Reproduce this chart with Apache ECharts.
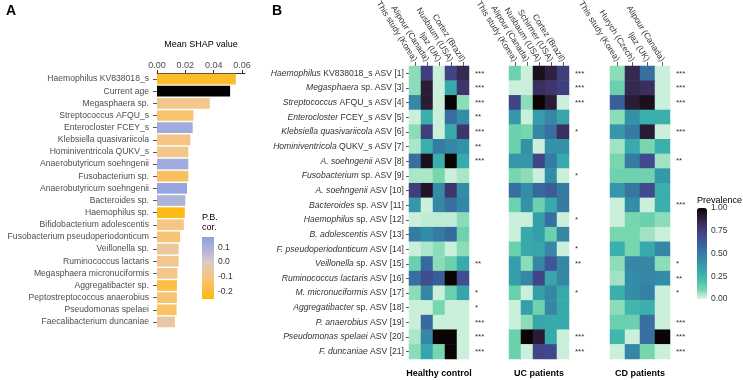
<!DOCTYPE html>
<html><head><meta charset="utf-8">
<script src="https://cdn.jsdelivr.net/npm/echarts@6/dist/echarts.min.js"></script>
<style>html,body{margin:0;padding:0;background:#fff}#c{width:743px;height:380px}</style>
</head><body><div id="c"></div>
<script>
const FONT = '"Liberation Sans", Arial, Helvetica, sans-serif';

// ---------- Panel A data ----------
const featureNames = ['Haemophilus KV838018_s','Current age','Megasphaera sp.','Streptococcus AFQU_s','Enterocloster FCEY_s','Klebsiella quasivariicola','Hominiventricola QUKV_s','Anaerobutyricum soehngenii','Fusobacterium sp.','Anaerobutyricum soehngenii','Bacteroides sp.','Haemophilus sp.','Bifidobacterium adolescentis','Fusobacterium pseudoperiodonticum','Veillonella sp.','Ruminococcus lactaris','Megasphaera micronuciformis','Aggregatibacter sp.','Peptostreptococcus anaerobius','Pseudomonas spelaei','Faecalibacterium duncaniae'];
const shapValues = [0.0556,0.0516,0.0372,0.0257,0.0252,0.0235,0.0221,0.0221,0.0221,0.0212,0.0200,0.0196,0.0189,0.0163,0.0153,0.0153,0.0144,0.0141,0.0140,0.0138,0.0127];
const pbCor = [-0.21,null,-0.09,-0.13,0.12,-0.10,-0.09,0.12,-0.15,0.14,0.09,-0.23,-0.10,-0.12,-0.06,-0.08,-0.09,-0.18,-0.12,-0.14,-0.05];
const shapTicks = [0, 0.02, 0.04, 0.06];
const corTicks = [0.1, 0.0, -0.1, -0.2];
const corTickLabels = ['0.1','0.0','-0.1','-0.2'];

// ---------- Panel B data ----------
const rowItalic = ['Haemophilus','Megasphaera','Streptococcus','Enterocloster','Klebsiella quasivariicola','Hominiventricola','A. soehngenii','Fusobacterium','A. soehngenii','Bacteroides','Haemophilus','B. adolescentis','F. pseudoperiodonticum','Veillonella','Ruminococcus lactaris','M. micronuciformis','Aggregatibacter','P. anaerobius','Pseudomonas spelaei','F. duncaniae'];
const rowPlain = [' KV838018_s ASV [1]',' sp. ASV [3]',' AFQU_s ASV [4]',' FCEY_s ASV [5]',' ASV [6]',' QUKV_s ASV [7]',' ASV [8]',' sp. ASV [9]',' ASV [10]',' sp. ASV [11]',' sp. ASV [12]',' ASV [13]',' ASV [14]',' sp. ASV [15]',' ASV [16]',' ASV [17]',' sp. ASV [18]',' ASV [19]',' ASV [20]',' ASV [21]'];

const studiesHC = ['This study (Korea)','Alipour (Canada)','Ijaz (UK)','Nusbaum (USA)','Cortez (Brazil)'];
const studiesUC = ['This study (Korea)','Alipour (Canada)','Nusbaum (USA)','Schirmer (USA)','Cortez (Brazil)'];
const studiesCD = ['This study (Korea)','Hurych (Czech)','Ijaz (UK)','Alipour (Canada)'];
const facetNames = ['Healthy control','UC patients','CD patients'];

const prevHC = [
 [0.08,0.75,0.02,0.72,0.85],
 [0.08,0.90,0.02,0.30,0.80],
 [0.45,0.90,0.02,1.00,0.08],
 [0.02,0.28,0.02,0.55,0.42],
 [0.08,0.75,0.02,0.30,0.80],
 [0.05,0.28,0.50,0.45,0.40],
 [0.55,0.95,0.28,1.00,0.30],
 [0.05,0.05,0.10,0.02,0.05],
 [0.75,0.93,0.42,0.80,0.42],
 [0.38,0.02,0.45,0.55,0.45],
 [0.02,0.03,0.03,0.03,0.08],
 [0.50,0.42,0.50,0.58,0.12],
 [0.02,0.05,0.08,0.02,0.08],
 [0.13,0.58,0.08,0.13,0.30],
 [0.55,0.68,0.62,1.00,0.68],
 [0.08,0.45,0.02,0.13,0.32],
 [0.02,0.02,0.10,0.02,0.02],
 [0.02,0.58,0.02,0.02,0.02],
 [0.05,0.45,1.00,1.00,0.02],
 [0.08,0.32,0.10,1.00,0.02]
];
const prevUC = [
 [0.12,0.02,0.95,0.88,0.75],
 [0.02,0.02,0.82,0.80,0.75],
 [0.72,0.08,1.00,0.90,0.02],
 [0.38,0.02,0.35,0.45,0.32],
 [0.13,0.10,0.45,0.55,0.82],
 [0.13,0.40,0.02,0.40,0.40],
 [0.38,0.38,0.72,0.50,0.30],
 [0.10,0.08,0.02,0.42,0.02],
 [0.55,0.42,0.58,0.62,0.50],
 [0.12,0.40,0.13,0.30,0.50],
 [0.02,0.02,0.35,0.55,0.02],
 [0.02,0.30,0.35,0.13,0.45],
 [0.13,0.30,0.32,0.45,0.02],
 [0.35,0.08,0.45,0.65,0.45],
 [0.35,0.45,0.72,0.32,0.45],
 [0.13,0.02,0.35,0.45,0.30],
 [0.02,0.35,0.12,0.45,0.30],
 [0.02,0.08,0.32,0.30,0.30],
 [0.13,1.00,0.90,0.30,0.02],
 [0.13,0.02,0.72,0.70,0.02]
];
const prevCD = [
 [0.08,0.85,0.55,0.02],
 [0.13,0.85,0.82,0.02],
 [0.62,0.90,0.95,0.02],
 [0.08,0.40,0.28,0.28],
 [0.38,0.50,0.90,0.02],
 [0.06,0.30,0.10,0.28],
 [0.10,0.50,0.70,0.06],
 [0.12,0.12,0.12,0.38],
 [0.38,0.52,0.70,0.28],
 [0.02,0.42,0.02,0.28],
 [0.02,0.10,0.13,0.08],
 [0.10,0.10,0.06,0.02],
 [0.28,0.10,0.30,0.45],
 [0.08,0.45,0.45,0.08],
 [0.06,0.42,0.45,0.42],
 [0.28,0.42,0.48,0.02],
 [0.08,0.25,0.28,0.02],
 [0.13,0.13,0.55,0.02],
 [0.25,0.02,0.55,1.00],
 [0.02,0.45,0.10,0.02]
];
const sigHC = ['***','***','***','**','***','**','***','','','','','','','**','','*','*','***','***','***'];
const sigUC = ['***','***','***','','*','','','*','','','*','','*','**','','*','','','***','***'];
const sigCD = ['***','***','***','','***','','**','','','***','','','','*','**','*','','***','***','***'];
const prevTicks = [0, 0.25, 0.5, 0.75, 1];
const prevTickLabels = ['0.00','0.25','0.50','0.75','1.00'];

// ---------- colour helpers ----------
const makoR = ['#DEF5E5','#78D6AE','#49C1AD','#38AAAC','#3492A8','#357BA2','#38639D','#40498E','#3E356B','#2B1C35','#0B0405'];
const corStops = [[-0.25,'#FFB800'],[-0.2,'#FCBD35'],[-0.1,'#F6C585'],[0,'#DACBBF'],[0.1,'#A8B1DA'],[0.17,'#8C9EE4']];
const corMin = -0.25, corMax = 0.17;
function hex2rgb(h){return [parseInt(h.slice(1,3),16),parseInt(h.slice(3,5),16),parseInt(h.slice(5,7),16)];}
function corColor(v){
  if (v === null) return '#000000';
  if (v <= corStops[0][0]) return corStops[0][1];
  for (let i=1;i<corStops.length;i++){
    if (v <= corStops[i][0]){
      const a=corStops[i-1], b=corStops[i];
      const t=(v-a[0])/(b[0]-a[0]);
      const ca=hex2rgb(a[1]), cb=hex2rgb(b[1]);
      return 'rgb('+ca.map((x,k)=>Math.round(x+(cb[k]-x)*t)).join(',')+')';
    }
  }
  return corStops[corStops.length-1][1];
}

// ---------- layout ----------
const A = {left:157, top:73, width:88, height:255};
const HM = {top:66, height:293, width:60};
const hmLeft = [409, 509, 610];
const corBar = {x:202, y:237, w:12, h:62};
const prevBar = {x:697, y:208, w:10, h:91};

function cells(mat){
  const out=[];
  mat.forEach((row,r)=>row.forEach((v,c)=>out.push([c,r,v])));
  return out;
}

const txt = '#333333';
const grids = [
  {left:A.left, top:A.top, width:A.width, height:A.height, outerBoundsMode:'none'},
  ...hmLeft.map(l=>({left:l, top:HM.top, width:HM.width, height:HM.height, outerBoundsMode:'none'}))
];

const studySets = [studiesHC, studiesUC, studiesCD];
const sigSets = [sigHC, sigUC, sigCD];
const prevSets = [prevHC, prevUC, prevCD];

const xAxes = [{
  type:'value', gridIndex:0, position:'top', min:0, max:0.0621, interval:0.02,
  name:'Mean SHAP value', nameLocation:'middle', nameGap:24,
  nameTextStyle:{fontFamily:FONT, fontSize:9, color:'#000'},
  axisLine:{show:true, lineStyle:{color:'#000', width:0.8}},
  axisTick:{show:true, length:3, lineStyle:{color:'#000', width:0.8}},
  axisLabel:{fontFamily:FONT, fontSize:9, color:'#4D4D4D', margin:3, showMaxLabel:false,
    formatter:v=> shapTicks.some(t=>Math.abs(t-v)<1e-9) ? v.toFixed(2) : ''},
  splitLine:{show:false}
}];
studySets.forEach((s,i)=>{
  xAxes.push({
    type:'category', gridIndex:i+1, position:'top', data:s,
    axisLine:{show:false},
    axisTick:{show:true, length:4, alignWithLabel:true, lineStyle:{color:'#333', width:0.8}},
    axisLabel:{interval:0, rotate:58, fontFamily:FONT, fontSize:8.5, color:txt, margin:5, padding:[10,0,0,0]},
    splitLine:{show:false}
  });
});
facetNames.forEach((n,i)=>{
  xAxes.push({
    type:'category', gridIndex:i+1, position:'bottom', data:studySets[i],
    name:n, nameLocation:'middle', nameGap:10,
    nameTextStyle:{fontFamily:FONT, fontSize:9, fontWeight:'bold', color:'#000'},
    axisLine:{show:false}, axisTick:{show:false}, axisLabel:{show:false}, splitLine:{show:false}
  });
});

const yAxes = [{
  type:'category', gridIndex:0, data:featureNames, inverse:true, offset:5,
  axisLine:{show:false},
  axisTick:{show:true, length:4, alignWithLabel:true, lineStyle:{color:'#333', width:0.8}},
  axisLabel:{interval:0, fontFamily:FONT, fontSize:8.6, color:'#4D4D4D', margin:3}
}];
const rowLabels = rowItalic.map((g,i)=>g+rowPlain[i]);
studySets.forEach((s,i)=>{
  yAxes.push({
    type:'category', gridIndex:i+1, data:rowLabels, inverse:true, position:'left',
    axisLine:{show:false},
    axisTick:{show:i===0, length:3, alignWithLabel:true, lineStyle:{color:'#333', width:0.8}},
    axisLabel:{show:i===0, interval:0, fontFamily:FONT, fontSize:8.6, color:txt, margin:5,
      formatter:(v,idx)=>'{i|'+rowItalic[idx]+'}'+rowPlain[idx],
      rich:{i:{fontStyle:'italic', fontFamily:FONT, fontSize:8.6, color:txt}}}
  });
  yAxes.push({
    type:'category', gridIndex:i+1, data:sigSets[i].map((x,k)=>k), inverse:true, position:'right',
    axisLine:{show:false}, axisTick:{show:false},
    axisLabel:{interval:0, fontFamily:FONT, fontSize:8, color:txt, margin:6, align:'left',
      formatter:(v,idx)=>sigSets[i][idx]}
  });
});

const series = [{
  type:'bar', xAxisIndex:0, yAxisIndex:0, barCategoryGap:'12%',
  data: shapValues.map((v,i)=>({value:v, itemStyle:{color:corColor(pbCor[i])}}))
}];
prevSets.forEach((m,i)=>{
  series.push({type:'heatmap', xAxisIndex:i+1, yAxisIndex:1+2*i, data:cells(m)});
});

// graphic: panel letters, legends
const graphic = [
  {type:'text', x:6, y:4, style:{text:'A', font:'bold 14px '+FONT, fill:'#000'}},
  {type:'text', x:272, y:4, style:{text:'B', font:'bold 14px '+FONT, fill:'#000'}},
  {type:'text', x:corBar.x, y:corBar.y-24, style:{text:'P.B.\ncor.', font:'9px '+FONT, fill:'#000', lineHeight:10}},
  {type:'rect', shape:{x:corBar.x, y:corBar.y, width:corBar.w, height:corBar.h},
    style:{fill:new echarts.graphic.LinearGradient(0,0,0,1,
      corStops.slice().reverse().map(s=>({offset:(corMax-s[0])/(corMax-corMin), color:s[1]})))}},
  {type:'text', x:prevBar.x, y:prevBar.y-12, style:{text:'Prevalence', font:'9px '+FONT, fill:'#000'}}
];
corTicks.forEach((t,i)=>{
  graphic.push({type:'text', x:corBar.x+corBar.w+4, y:corBar.y+(corMax-t)/(corMax-corMin)*corBar.h,
    style:{text:corTickLabels[i], font:'8.5px '+FONT, fill:'#333', verticalAlign:'middle'}});
});
prevTicks.forEach((t,i)=>{
  graphic.push({type:'text', x:prevBar.x+prevBar.w+4, y:prevBar.y+(1-t)*prevBar.h,
    style:{text:prevTickLabels[i], font:'8.5px '+FONT, fill:'#333', verticalAlign:'middle'}});
});

const chart = echarts.init(document.getElementById('c'), null, {renderer:'canvas'});
chart.setOption({
  animation:false,
  backgroundColor:'#fff',
  textStyle:{fontFamily:FONT},
  grid:grids,
  xAxis:xAxes,
  yAxis:yAxes,
  visualMap:{type:'continuous', min:0, max:1, seriesIndex:[1,2,3], calculable:false,
    orient:'vertical', left:prevBar.x, top:prevBar.y, itemWidth:prevBar.w, itemHeight:prevBar.h,
    padding:0, text:null, inRange:{color:makoR}, showLabel:false},
  series:series,
  graphic:graphic
});
</script></body></html>
